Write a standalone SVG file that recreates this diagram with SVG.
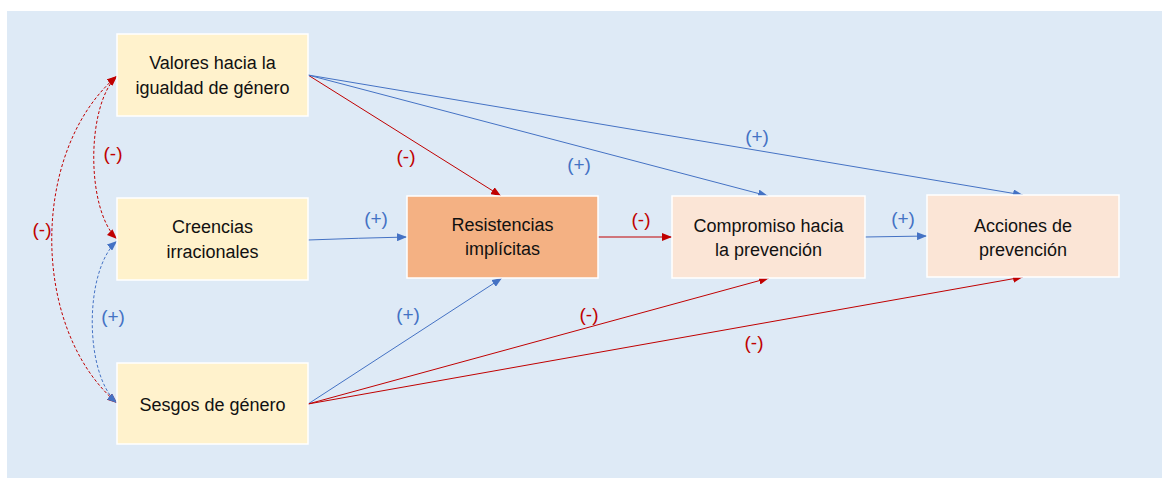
<svg xmlns="http://www.w3.org/2000/svg" width="1162" height="478" viewBox="0 0 1162 478">
<defs>
<style>
.box{stroke:#ffffff;stroke-width:1.5}
.y{fill:#fff2cc}
.o{fill:#f4b183}
.p{fill:#fbe5d6}
.t{font-family:"Liberation Sans",Arial,sans-serif;font-size:18px;fill:#111111;text-anchor:middle}
.lb{font-family:"Liberation Sans",Arial,sans-serif;font-size:19px;text-anchor:middle}
.lr{fill:#c00000}
.lbl{fill:#4472c4}
.r{stroke:#c00000;stroke-width:1;fill:none}
.b{stroke:#4472c4;stroke-width:1;fill:none}
.d{stroke-dasharray:3 2}
</style>
<marker id="ar" markerUnits="userSpaceOnUse" markerWidth="10" markerHeight="8" refX="10" refY="4" orient="auto-start-reverse" viewBox="0 0 10 8"><path d="M0,0 L10,4 L0,8 z" fill="#c00000"/></marker>
<marker id="ab" markerUnits="userSpaceOnUse" markerWidth="10" markerHeight="8" refX="10" refY="4" orient="auto-start-reverse" viewBox="0 0 10 8"><path d="M0,0 L10,4 L0,8 z" fill="#4472c4"/></marker>
</defs>
<rect x="7" y="11" width="1155" height="467" fill="#deeaf6"/>
<g id="connectors">
<path class="r d" d="M117,76 C30,150 30,329 117,403" marker-start="url(#ar)" marker-end="url(#ar)"/>
<path class="r d" d="M117,76 C86,105 86,210 117,239" marker-start="url(#ar)" marker-end="url(#ar)"/>
<path class="b d" d="M117,241 C84,270 84,374 117,403" marker-start="url(#ab)" marker-end="url(#ab)"/>
<line class="r" x1="308" y1="75" x2="501" y2="196" marker-end="url(#ar)"/>
<line class="b" x1="308" y1="75" x2="768" y2="196" marker-end="url(#ab)"/>
<line class="b" x1="308" y1="75" x2="1023" y2="195" marker-end="url(#ab)"/>
<path class="b" d="M308,240 Q360,238 407,237" marker-end="url(#ab)"/>
<line class="r" x1="598" y1="237" x2="672" y2="237" marker-end="url(#ar)"/>
<line class="b" x1="865" y1="237" x2="927" y2="236" marker-end="url(#ab)"/>
<line class="b" x1="308" y1="404" x2="502" y2="278" marker-end="url(#ab)"/>
<line class="r" x1="308" y1="404" x2="769" y2="278" marker-end="url(#ar)"/>
<line class="r" x1="308" y1="404" x2="1023" y2="277" marker-end="url(#ar)"/>
<text class="lb lr" x="42" y="236">(-)</text>
<text class="lb lr" x="113" y="160">(-)</text>
<text class="lb lbl" x="113" y="323">(+)</text>
<text class="lb lr" x="406" y="163">(-)</text>
<text class="lb lbl" x="579" y="171">(+)</text>
<text class="lb lbl" x="757" y="143">(+)</text>
<text class="lb lbl" x="376" y="225">(+)</text>
<text class="lb lr" x="641" y="226">(-)</text>
<text class="lb lbl" x="903" y="225">(+)</text>
<text class="lb lbl" x="408" y="321">(+)</text>
<text class="lb lr" x="589" y="321">(-)</text>
<text class="lb lr" x="754" y="349">(-)</text>
</g>
<g id="valores">
<rect class="box y" x="117" y="34" width="191" height="82"/>
<text class="t" x="212.5" y="68.5">Valores hacia la</text>
<text class="t" x="212.5" y="93.5">igualdad de género</text>
</g>
<g id="creencias">
<rect class="box y" x="117" y="198" width="191" height="82"/>
<text class="t" x="212.5" y="233">Creencias</text>
<text class="t" x="212.5" y="258">irracionales</text>
</g>
<g id="sesgos">
<rect class="box y" x="117" y="363" width="191" height="81"/>
<text class="t" x="212.5" y="411">Sesgos de género</text>
</g>
<g id="resistencias">
<rect class="box o" x="407" y="196" width="191" height="82"/>
<text class="t" x="502.5" y="231">Resistencias</text>
<text class="t" x="502.5" y="255">implícitas</text>
</g>
<g id="compromiso">
<rect class="box p" x="672" y="196" width="193" height="82"/>
<text class="t" x="768.5" y="231.5">Compromiso hacia</text>
<text class="t" x="768.5" y="255.5">la prevención</text>
</g>
<g id="acciones">
<rect class="box p" x="927" y="195" width="192" height="82"/>
<text class="t" x="1023" y="231.5">Acciones de</text>
<text class="t" x="1023" y="255.5">prevención</text>
</g>
</svg>
